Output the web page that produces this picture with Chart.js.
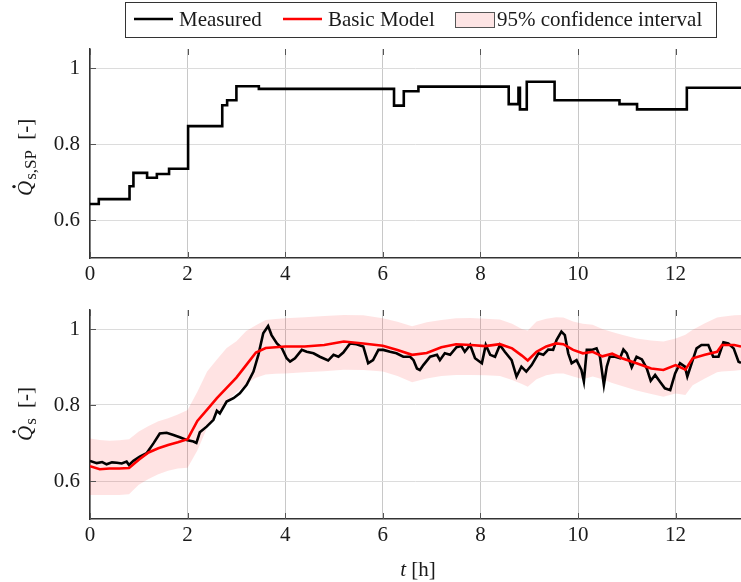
<!DOCTYPE html>
<html>
<head>
<meta charset="utf-8">
<script src="https://cdn.jsdelivr.net/npm/chart.js@4.4.1/dist/chart.umd.min.js"></script>
<style>
  body { margin: 0; background: #fff; }
  canvas { position: absolute; left: 0; }
  #topChart { top: 0; }
  #botChart { top: 292px; }
</style>
</head>
<body>
<canvas id="topChart" width="741" height="292"></canvas>
<canvas id="botChart" width="741" height="290"></canvas>
<script>
// set-point steps (value held from t until the next t)
var spT = [0, 0.18, 0.81, 0.89, 1.17, 1.37, 1.62, 2.01, 2.71, 2.81, 3.0, 3.46, 6.23, 6.43, 6.73, 8.58, 8.78, 8.81, 8.95, 9.52, 10.85, 11.21, 12.23, 13.34];
var spQ = [0.642, 0.655, 0.689, 0.724, 0.711, 0.721, 0.735, 0.847, 0.902, 0.915, 0.952, 0.945, 0.901, 0.939, 0.951, 0.905, 0.948, 0.891, 0.964, 0.915, 0.905, 0.891, 0.948, 0.948];

// measured flow
var measT = [0, 0.14, 0.25, 0.34, 0.45, 0.55, 0.65, 0.75, 0.80, 0.89, 1.02, 1.16, 1.30, 1.43, 1.57, 1.71, 1.84, 1.98, 2.12, 2.18, 2.25, 2.39, 2.53, 2.60, 2.66, 2.80, 2.94, 3.07, 3.21, 3.35, 3.45, 3.55, 3.65, 3.72, 3.83, 3.93, 4.03, 4.10, 4.20, 4.34, 4.44, 4.58, 4.71, 4.88, 4.99, 5.09, 5.19, 5.33, 5.46, 5.60, 5.70, 5.80, 5.91, 6.01, 6.15, 6.28, 6.42, 6.56, 6.63, 6.70, 6.76, 6.83, 6.97, 7.11, 7.17, 7.27, 7.38, 7.51, 7.61, 7.68, 7.79, 7.89, 8.03, 8.11, 8.20, 8.30, 8.40, 8.50, 8.64, 8.74, 8.84, 8.94, 9.05, 9.19, 9.29, 9.39, 9.49, 9.56, 9.66, 9.73, 9.80, 9.87, 9.97, 10.07, 10.12, 10.18, 10.28, 10.38, 10.45, 10.53, 10.59, 10.65, 10.76, 10.86, 10.93, 11.00, 11.10, 11.20, 11.31, 11.41, 11.49, 11.58, 11.68, 11.78, 11.89, 11.99, 12.09, 12.19, 12.24, 12.33, 12.43, 12.53, 12.67, 12.77, 12.88, 12.98, 13.08, 13.19, 13.29, 13.34];
var measQ = [0.653, 0.647, 0.650, 0.644, 0.649, 0.648, 0.646, 0.651, 0.642, 0.653, 0.664, 0.673, 0.699, 0.725, 0.727, 0.721, 0.715, 0.708, 0.704, 0.700, 0.728, 0.743, 0.761, 0.785, 0.778, 0.809, 0.818, 0.831, 0.853, 0.888, 0.932, 0.989, 1.008, 0.984, 0.962, 0.950, 0.923, 0.914, 0.923, 0.945, 0.940, 0.936, 0.927, 0.917, 0.932, 0.927, 0.938, 0.962, 0.960, 0.954, 0.910, 0.918, 0.945, 0.945, 0.940, 0.936, 0.927, 0.927, 0.918, 0.896, 0.892, 0.905, 0.927, 0.932, 0.918, 0.936, 0.932, 0.952, 0.955, 0.940, 0.958, 0.923, 0.910, 0.958, 0.932, 0.927, 0.958, 0.940, 0.918, 0.875, 0.901, 0.888, 0.905, 0.936, 0.932, 0.946, 0.945, 0.971, 0.993, 0.984, 0.936, 0.910, 0.918, 0.892, 0.862, 0.945, 0.945, 0.949, 0.927, 0.853, 0.901, 0.927, 0.927, 0.923, 0.946, 0.936, 0.899, 0.927, 0.920, 0.896, 0.864, 0.879, 0.861, 0.844, 0.839, 0.883, 0.910, 0.901, 0.875, 0.910, 0.949, 0.958, 0.958, 0.927, 0.927, 0.965, 0.962, 0.949, 0.914, 0.911];

// basic model and its 95% band
var modT  = [0, 0.2, 0.4, 0.6, 0.8, 1.0, 1.2, 1.4, 1.6, 1.8, 2.0, 2.2, 2.4, 2.6, 2.8, 3.0, 3.2, 3.4, 3.6, 3.8, 4.0, 4.4, 4.8, 5.2, 5.6, 6.0, 6.3, 6.6, 6.9, 7.2, 7.5, 7.8, 8.1, 8.4, 8.65, 8.85, 8.97, 9.15, 9.35, 9.55, 9.7, 9.9, 10.1, 10.3, 10.5, 10.7, 10.9, 11.2, 11.5, 11.75, 12.0, 12.2, 12.35, 12.6, 12.85, 12.95, 13.2, 13.34];
var modQ  = [0.639, 0.631, 0.633, 0.633, 0.634, 0.656, 0.675, 0.686, 0.695, 0.702, 0.710, 0.758, 0.788, 0.818, 0.845, 0.872, 0.905, 0.938, 0.950, 0.952, 0.954, 0.954, 0.958, 0.967, 0.962, 0.956, 0.945, 0.932, 0.937, 0.952, 0.960, 0.958, 0.955, 0.960, 0.949, 0.930, 0.917, 0.940, 0.954, 0.962, 0.960, 0.945, 0.936, 0.940, 0.928, 0.935, 0.923, 0.910, 0.896, 0.892, 0.905, 0.893, 0.923, 0.932, 0.940, 0.958, 0.958, 0.954];
var ciLow = [0.563, 0.563, 0.563, 0.563, 0.565, 0.590, 0.605, 0.618, 0.627, 0.633, 0.635, 0.680, 0.740, 0.775, 0.810, 0.833, 0.855, 0.872, 0.880, 0.882, 0.883, 0.886, 0.889, 0.893, 0.892, 0.888, 0.876, 0.860, 0.870, 0.876, 0.879, 0.879, 0.878, 0.876, 0.866, 0.855, 0.848, 0.868, 0.878, 0.883, 0.883, 0.875, 0.868, 0.875, 0.868, 0.858, 0.850, 0.838, 0.829, 0.822, 0.830, 0.826, 0.852, 0.870, 0.886, 0.888, 0.890, 0.892];
var ciHigh = [0.712, 0.708, 0.706, 0.707, 0.710, 0.730, 0.745, 0.757, 0.765, 0.775, 0.787, 0.835, 0.888, 0.920, 0.950, 0.968, 0.995, 1.010, 1.024, 1.026, 1.028, 1.031, 1.034, 1.037, 1.036, 1.028, 1.019, 1.007, 1.018, 1.024, 1.028, 1.029, 1.027, 1.025, 1.014, 1.000, 0.996, 1.020, 1.027, 1.031, 1.030, 1.020, 1.014, 1.011, 1.000, 0.992, 0.985, 0.975, 0.970, 0.967, 0.975, 0.985, 0.998, 1.015, 1.030, 1.032, 1.036, 1.037];

var xTicks = [0, 2, 4, 6, 8, 10, 12];
var yTicks = [0.6, 0.8, 1];
var legendLabels = ['Measured', 'Basic Model', '95% confidence interval'];

var FONT = '"Liberation Serif", "DejaVu Serif", serif';
var TXT = '#1a1a1a';
Chart.defaults.font.family = FONT;
Chart.defaults.font.size = 21;
Chart.defaults.color = TXT;

let pts = (xs, ys) => xs.map((t, i) => ({ x: t, y: ys[i] }));

// small tick marks drawn inside the axes
var insideTicks = {
    id: 'insideTicks',
    afterDatasetsDraw(chart) {
        const ctx = chart.ctx, a = chart.chartArea, x = chart.scales.x, y = chart.scales.y;
        ctx.save();
        ctx.strokeStyle = '#555';
        ctx.lineWidth = 1;
        ctx.beginPath();
        x.ticks.forEach(t => {
            const px = Math.round(x.getPixelForValue(t.value)) + 0.5;
            ctx.moveTo(px, a.bottom); ctx.lineTo(px, a.bottom - 6);
            ctx.moveTo(px, a.top); ctx.lineTo(px, a.top + 6);
        });
        y.ticks.forEach(t => {
            const py = Math.round(y.getPixelForValue(t.value)) + 0.5;
            ctx.moveTo(a.left, py); ctx.lineTo(a.left + 6, py);
        });
        ctx.stroke();
        ctx.restore();
    }
};

// rotated y label with dotted Q and subscript
var yTitle = {
    id: 'yTitle',
    afterDraw(chart, args, o) {
        if (!o.sub) return;
        const ctx = chart.ctx;
        ctx.save();
        ctx.translate(o.x, o.start);
        ctx.rotate(-Math.PI / 2);
        ctx.fillStyle = TXT;
        ctx.textBaseline = 'alphabetic';
        let cx = 0;
        ctx.font = 'italic 21px ' + FONT;
        ctx.fillText('Q', cx, 0);
        const wQ = ctx.measureText('Q').width;
        ctx.beginPath();
        ctx.arc(cx + wQ * 0.62, -18, 1.7, 0, 2 * Math.PI);
        ctx.fill();
        cx += wQ + 1;
        ctx.font = '17px ' + FONT;
        ctx.fillText(o.sub, cx, 4);
        cx += ctx.measureText(o.sub).width + 5;
        ctx.font = '21px ' + FONT;
        ctx.fillText(' [-]', cx, 0);
        ctx.restore();
    }
};

// x label "t [h]"
var xTitle = {
    id: 'xTitle',
    afterDraw(chart, args, o) {
        if (!o.show) return;
        const ctx = chart.ctx;
        ctx.save();
        ctx.fillStyle = TXT;
        ctx.textBaseline = 'alphabetic';
        ctx.font = 'italic 21px ' + FONT;
        const w1 = ctx.measureText('t').width;
        ctx.font = '21px ' + FONT;
        const w2 = ctx.measureText(' [h]').width;
        let cx = o.cx - (w1 + w2) / 2;
        ctx.font = 'italic 21px ' + FONT;
        ctx.fillText('t', cx, o.y);
        ctx.font = '21px ' + FONT;
        ctx.fillText(' [h]', cx + w1, o.y);
        ctx.restore();
    }
};

// boxed legend above the top panel
var legendBox = {
    id: 'legendBox',
    afterDraw(chart, args, o) {
        if (!o.show) return;
        const ctx = chart.ctx;
        ctx.save();
        ctx.fillStyle = '#fff';
        ctx.fillRect(125, 2, 591, 36);
        ctx.strokeStyle = '#333';
        ctx.lineWidth = 1;
        ctx.strokeRect(125.5, 2.5, 591, 35);
        ctx.lineWidth = 2.6;
        ctx.strokeStyle = '#000';
        ctx.beginPath(); ctx.moveTo(134, 19); ctx.lineTo(173, 19); ctx.stroke();
        ctx.strokeStyle = '#ff0000';
        ctx.beginPath(); ctx.moveTo(283, 19); ctx.lineTo(322, 19); ctx.stroke();
        ctx.fillStyle = '#fde4e4';
        ctx.fillRect(455, 12, 39, 15);
        ctx.lineWidth = 1;
        ctx.strokeStyle = '#555';
        ctx.strokeRect(455.5, 12.5, 39, 15);
        ctx.fillStyle = TXT;
        ctx.font = '21px ' + FONT;
        ctx.textBaseline = 'middle';
        ctx.fillText(legendLabels[0], 179, 20);
        ctx.fillText(legendLabels[1], 328, 20);
        ctx.fillText(legendLabels[2], 497, 20);
        ctx.restore();
    }
};

function makeScales(xHeight) {
    return {
        x: {
            type: 'linear', min: 0, max: 13.34,
            afterBuildTicks: s => { s.ticks = xTicks.map(v => ({ value: v })); },
            afterFit: s => { s.height = xHeight; s.paddingLeft = 0; s.paddingRight = 0; },
            grid: { color: '#c8c8c8', lineWidth: 1, drawTicks: false },
            border: { color: '#333', width: 1.5 },
            ticks: { padding: 4, maxRotation: 0, autoSkip: false, callback: v => String(v) }
        },
        y: {
            type: 'linear', min: 0.5, max: 1.05,
            afterBuildTicks: s => { s.ticks = yTicks.map(v => ({ value: v })); },
            afterFit: s => { s.width = 90; s.paddingTop = 0; s.paddingBottom = 0; },
            grid: { color: '#dcdcdc', lineWidth: 1, drawTicks: false },
            border: { color: '#333', width: 1.5 },
            ticks: { padding: 10, callback: v => String(v) }
        }
    };
}

new Chart(document.getElementById('topChart'), {
    type: 'line',
    data: {
        datasets: [{
            label: 'Set point',
            data: pts(spT, spQ),
            stepped: 'before',
            borderColor: '#000',
            borderWidth: 2.6,
            pointRadius: 0,
            fill: false
        }]
    },
    options: {
        responsive: false,
        devicePixelRatio: 1,
        animation: false,
        layout: { padding: { top: 49, left: 0, right: 0, bottom: 0 } },
        scales: makeScales(34),
        plugins: {
            legend: { display: false },
            tooltip: { enabled: false },
            yTitle: { x: 32, start: 196, sub: 's,SP' },
            xTitle: { show: false },
            legendBox: { show: true }
        }
    },
    plugins: [insideTicks, yTitle, xTitle, legendBox]
});

new Chart(document.getElementById('botChart'), {
    type: 'line',
    data: {
        datasets: [{
            label: legendLabels[0],
            data: pts(measT, measQ),
            borderColor: '#000',
            borderWidth: 2.6,
            pointRadius: 0,
            fill: false,
            order: 1
        }, {
            label: legendLabels[1],
            data: pts(modT, modQ),
            borderColor: '#ff0000',
            borderWidth: 2.6,
            pointRadius: 0,
            fill: false,
            order: 0
        }, {
            label: legendLabels[2],
            data: pts(modT, ciHigh),
            borderWidth: 0,
            borderColor: 'rgba(0,0,0,0)',
            backgroundColor: 'rgba(255,0,0,0.11)',
            pointRadius: 0,
            fill: '+1',
            order: 2
        }, {
            label: 'lower',
            data: pts(modT, ciLow),
            borderWidth: 0,
            borderColor: 'rgba(0,0,0,0)',
            pointRadius: 0,
            fill: false,
            order: 3
        }]
    },
    options: {
        responsive: false,
        devicePixelRatio: 1,
        animation: false,
        layout: { padding: { top: 18, left: 0, right: 0, bottom: 0 } },
        scales: makeScales(63),
        plugins: {
            legend: { display: false },
            tooltip: { enabled: false },
            yTitle: { x: 32, start: 441 - 292, sub: 's' },
            xTitle: { show: true, cx: 418, y: 284 },
            legendBox: { show: false }
        }
    },
    plugins: [insideTicks, yTitle, xTitle, legendBox]
});
</script>
</body>
</html>
